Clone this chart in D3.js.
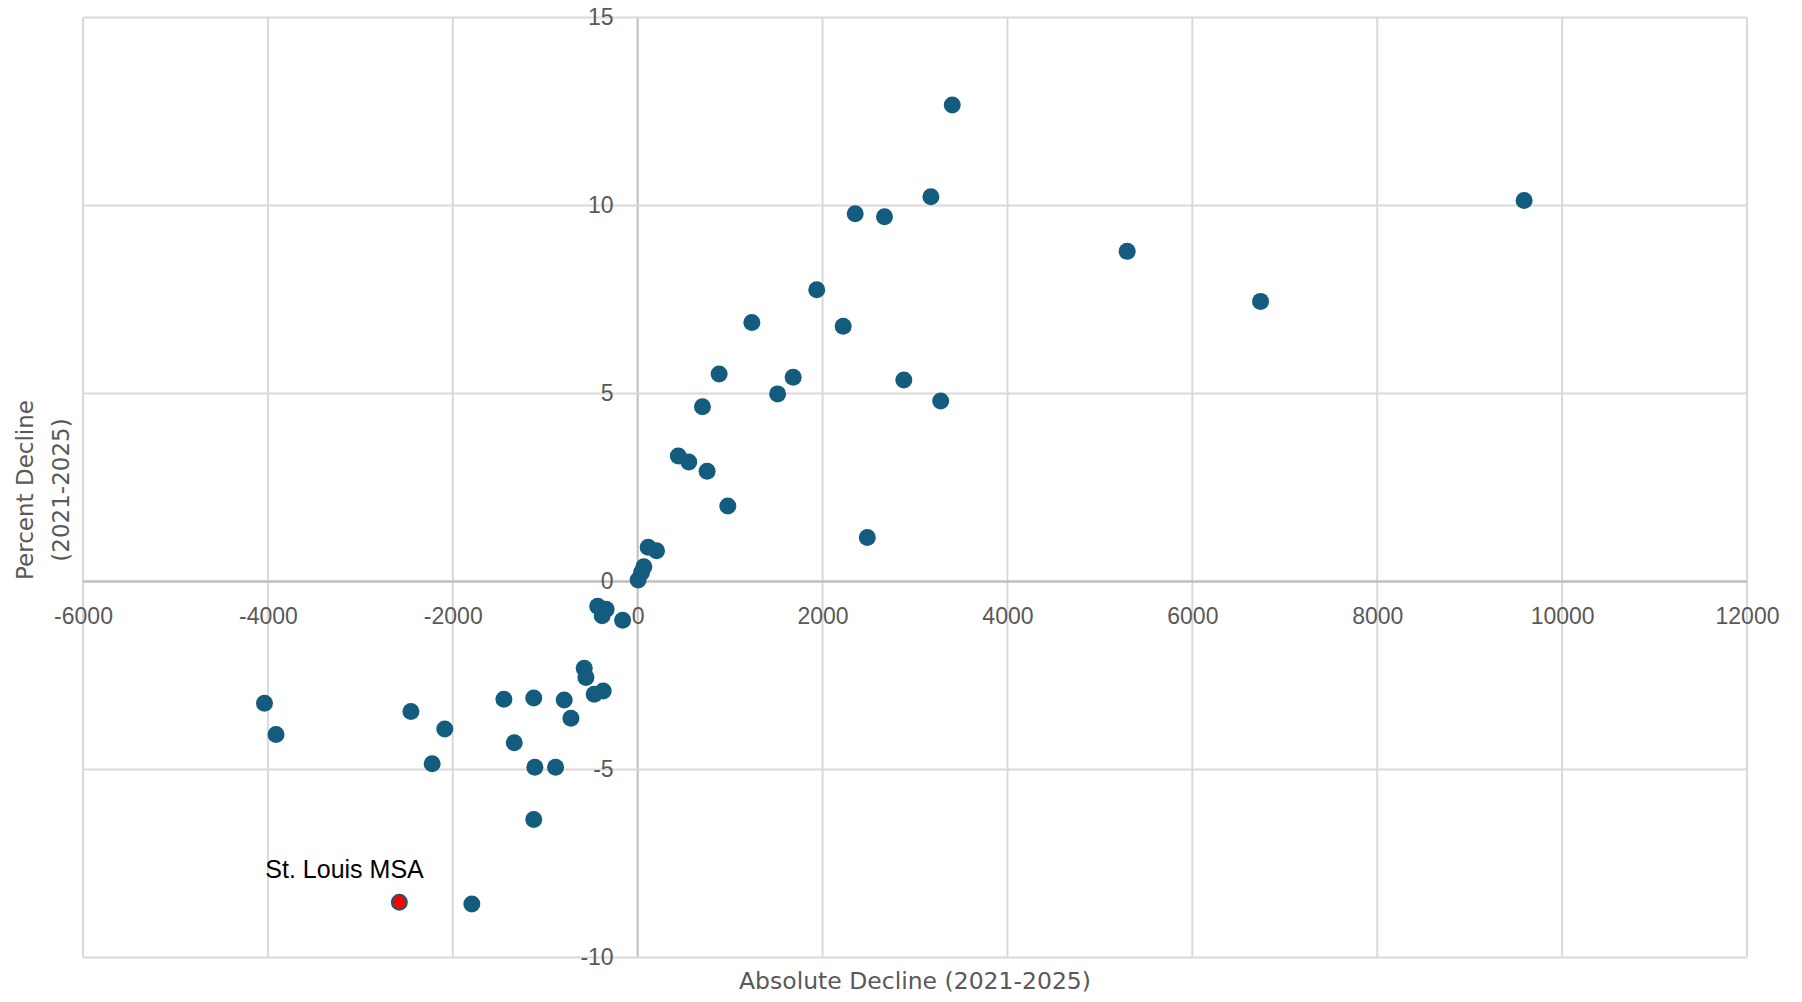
<!DOCTYPE html>
<html>
<head>
<meta charset="utf-8">
<script src="https://cdn.jsdelivr.net/npm/d3@7"></script>
<style>
	body { margin: 0; background: #ffffff; }
	svg { display: block; }
</style>
</head>
<body>
<div id="chart"></div>
<script>
// values
var absDecline = [3403, 3172, 9589, 2353, 2670, 5295, 1937, 6738, 1235, 2223,
	881, 1682, 2879, 1514, 3278, 701, 440, 553, 751, 975,
	2484, 114, 204, 67, 42, 5,
	-432, -341, -384, -163, -578, -560, -373, -470, -795, -722,
	-4037, -1447, -1124, -2453, -3912, -2087, -1335, -2223, -1112, -888,
	-1124, -2578, -1794];
var pctDecline = [12.67, 10.23, 10.13, 9.78, 9.70, 8.78, 7.76, 7.45, 6.89, 6.79,
	5.52, 5.43, 5.36, 4.99, 4.80, 4.65, 3.34, 3.18, 2.93, 2.01,
	1.17, 0.91, 0.82, 0.39, 0.24, 0.04,
	-0.66, -0.74, -0.91, -1.03, -2.31, -2.55, -2.91, -3.00, -3.15, -3.64,
	-3.24, -3.13, -3.10, -3.46, -4.07, -3.92, -4.29, -4.85, -4.94, -4.94,
	-6.33, -8.53, -8.58];
var highlightIndex = 47;
var highlightLabel = "St. Louis MSA";

var xTicks = [-6000, -4000, -2000, 0, 2000, 4000, 6000, 8000, 10000, 12000];
var yTicks = [-10, -5, 0, 5, 10, 15];

var xTitle = "Absolute Decline (2021-2025)";
var yTitleLines = ["Percent Decline", "(2021-2025)"];

(function () {
	var width = 1802, height = 1002;
	var margin = { top: 17.5, right: 55, bottom: 44.5, left: 83 };
	var plotW = width - margin.left - margin.right;
	var plotH = height - margin.top - margin.bottom;

	var dotColor = "#145c7e";
	var gridColor = "#d9d9d9";
	var axisColor = "#bfbfbf";
	var textColor = "#595959";

	var x = d3.scaleLinear().domain([-6000, 12000]).range([0, plotW]);
	var y = d3.scaleLinear().domain([-10, 15]).range([plotH, 0]);

	// plain hyphen for negatives, like the original
	var fmt = function (d) { return String(d); };

	var svg = d3.select("#chart").append("svg")
		.attr("width", width)
		.attr("height", height);

	var g = svg.append("g")
		.attr("transform", "translate(" + margin.left + "," + margin.top + ")");

	// grid
	g.append("g").attr("class", "grid-x")
		.selectAll("line").data(xTicks).enter().append("line")
		.attr("x1", function (d) { return x(d); })
		.attr("x2", function (d) { return x(d); })
		.attr("y1", 0)
		.attr("y2", plotH)
		.attr("stroke", function (d) { return d === 0 ? axisColor : gridColor; })
		.attr("stroke-width", 2);

	g.append("g").attr("class", "grid-y")
		.selectAll("line").data(yTicks).enter().append("line")
		.attr("x1", 0)
		.attr("x2", plotW)
		.attr("y1", function (d) { return y(d); })
		.attr("y2", function (d) { return y(d); })
		.attr("stroke", function (d) { return d === 0 ? axisColor : gridColor; })
		.attr("stroke-width", function (d) { return d === 0 ? 2.5 : 2; });

	// x axis sits on the zero line, y axis on x = 0
	var xAxis = g.append("g")
		.attr("transform", "translate(0," + y(0) + ")")
		.call(d3.axisBottom(x).tickValues(xTicks).tickSize(0).tickPadding(26).tickFormat(fmt));
	var yAxis = g.append("g")
		.attr("transform", "translate(" + x(0) + ",0)")
		.call(d3.axisLeft(y).tickValues(yTicks).tickSize(0).tickPadding(24).tickFormat(fmt));

	[xAxis, yAxis].forEach(function (a) {
		a.select(".domain").remove();
		a.selectAll("text")
			.attr("fill", textColor)
			.style("font-family", "'Liberation Sans', Arial, sans-serif")
			.style("font-size", "23px");
	});

	// titles
	svg.append("text")
		.attr("x", margin.left + plotW / 2)
		.attr("y", 989)
		.attr("text-anchor", "middle")
		.attr("fill", textColor)
		.style("font-family", "'DejaVu Sans', sans-serif")
		.style("font-size", "23.5px")
		.text(xTitle);

	var yTitle = svg.append("text")
		.attr("transform", "translate(0,490) rotate(-90)")
		.attr("text-anchor", "middle")
		.attr("fill", textColor)
		.style("font-family", "'DejaVu Sans', sans-serif")
		.style("font-size", "23px");
	yTitle.selectAll("tspan").data(yTitleLines).enter().append("tspan")
		.attr("x", 0)
		.attr("y", function (d, i) { return 33 + i * 36; })
		.text(function (d) { return d; });

	// points
	var pts = absDecline.map(function (v, i) { return { x: v, y: pctDecline[i], hi: i === highlightIndex }; });

	g.append("g").attr("class", "dots")
		.selectAll("circle").data(pts).enter().append("circle")
		.attr("cx", function (d) { return x(d.x); })
		.attr("cy", function (d) { return y(d.y); })
		.attr("r", function (d) { return d.hi ? 7.5 : 8.5; })
		.attr("fill", function (d) { return d.hi ? "#ff0000" : dotColor; })
		.attr("stroke", function (d) { return d.hi ? dotColor : "none"; })
		.attr("stroke-width", 2);

	var hi = pts[highlightIndex];
	g.append("text")
		.attr("x", x(hi.x) - 134)
		.attr("y", y(hi.y) - 24)
		.attr("fill", "#000000")
		.style("font-family", "'Liberation Sans', Arial, sans-serif")
		.style("font-size", "25px")
		.text(highlightLabel);
})();
</script>
</body>
</html>
